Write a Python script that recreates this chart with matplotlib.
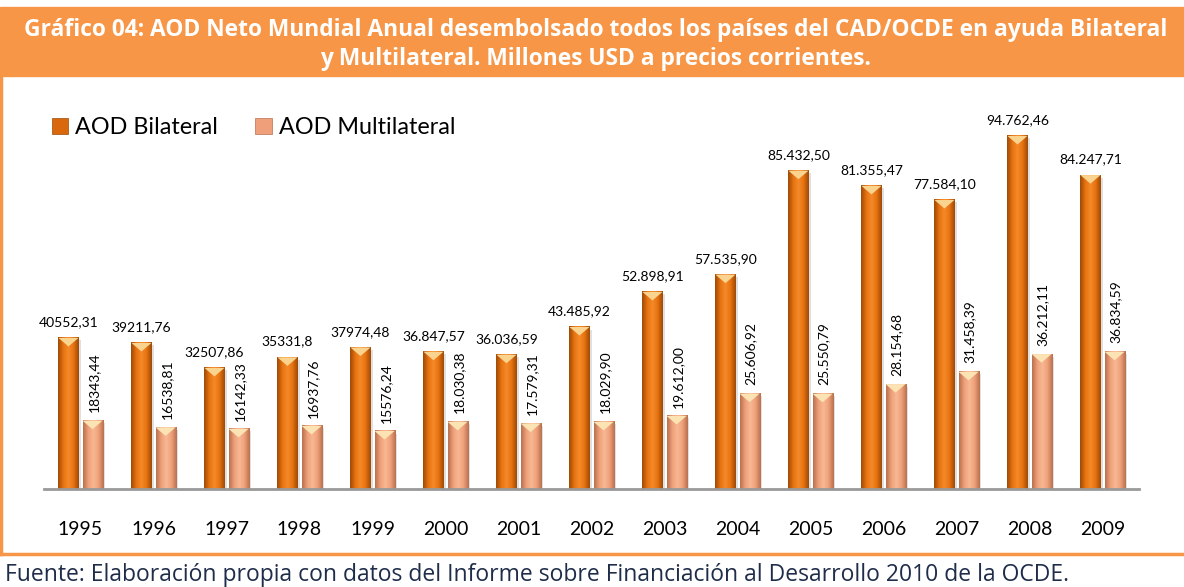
import numpy as np
import matplotlib.pyplot as plt
from matplotlib.colors import LinearSegmentedColormap
from matplotlib.patches import Rectangle, Polygon, Patch
from matplotlib.lines import Line2D

plt.rcParams['font.family'] = ['Lato', 'DejaVu Sans']

# data
years = ['1995', '1996', '1997', '1998', '1999', '2000', '2001', '2002',
         '2003', '2004', '2005', '2006', '2007', '2008', '2009']
bilateral = [40552.31, 39211.76, 32507.86, 35331.8, 37974.48, 36847.57, 36036.59,
             43485.92, 52898.91, 57535.90, 85432.50, 81355.47, 77584.10, 94762.46, 84247.71]
multilateral = [18343.44, 16538.81, 16142.33, 16937.76, 15576.24, 18030.38, 17579.31,
                18029.90, 19612.00, 25606.92, 25550.79, 28154.68, 31458.39, 36212.11, 36834.59]
bil_labels = ['40552,31', '39211,76', '32507,86', '35331,8', '37974,48', '36.847,57',
              '36.036,59', '43.485,92', '52.898,91', '57.535,90', '85.432,50',
              '81.355,47', '77.584,10', '94.762,46', '84.247,71']
mul_labels = ['18343,44', '16538,81', '16142,33', '16937,76', '15576,24', '18.030,38',
              '17.579,31', '18.029,90', '19.612,00', '25.606,92', '25.550,79',
              '28.154,68', '31.458,39', '36.212,11', '36.834,59']

orange = '#F79646'
fig = plt.figure(figsize=(11.84, 5.87), dpi=100)

# header band + frame lines
fig.patches.append(Rectangle((0, 1 - 76/587), 1, 69/587, transform=fig.transFigure,
                             color=orange, zorder=0))
fig.lines.append(Line2D([0.001, 0.001], [1 - 76/587, 1 - 554/587], transform=fig.transFigure,
                        color=orange, lw=2.5))
fig.lines.append(Line2D([0, 1], [1 - 554/587, 1 - 554/587], transform=fig.transFigure,
                        color=orange, lw=2.5))
fig.text(0.503, 1 - 44.5/587,
         'Gráfico 04: AOD Neto Mundial Anual desembolsado todos los países del CAD/OCDE en ayuda Bilateral\n'
         'y Multilateral. Millones USD a precios corrientes.',
         ha='center', va='center', color='white', fontsize=16.4, fontweight='bold',
         family=['Open Sans', 'DejaVu Sans'], linespacing=1.3)
fig.text(0.004, 1 - 575/587,
         'Fuente: Elaboración propia con datos del Informe sobre Financiación al Desarrollo 2010 de la OCDE.',
         ha='left', va='center', color='#1F2D4A', fontsize=16.5,
         family=['Open Sans', 'DejaVu Sans'])

ax = fig.add_axes([44/1184, 98/587, (1139 - 44)/1184, (489 - 100)/587])
ymax = 104400
x = np.arange(len(years))
w = 0.275
off = 0.165

cm_bil = LinearSegmentedColormap.from_list('bil', ['#9C4A08', '#E8720F', '#F58A2A', '#E8720F', '#9C4A08'])
cm_mul = LinearSegmentedColormap.from_list('mul', ['#B8704E', '#EFA07A', '#F7B894', '#EFA07A', '#B8704E'])
grad = np.linspace(0, 1, 64).reshape(1, -1)
depth = ymax * 0.022


def draw_bars(xs, vals, cmap, top_col):
    for xi, v in zip(xs, vals):
        # shadow
        ax.add_patch(Rectangle((xi - w/2 + 0.03, 0), w, v - depth * 0.3, color='#000000',
                               alpha=0.12, lw=0, zorder=1))
        ax.imshow(grad, extent=[xi - w/2, xi + w/2, 0, v], aspect='auto', cmap=cmap,
                  zorder=2, interpolation='bicubic')
        ax.add_patch(Polygon([[xi - w/2, v], [xi + w/2, v], [xi, v - depth]],
                             closed=True, color=top_col, lw=0, zorder=3))


draw_bars(x - off, bilateral, cm_bil, '#FAD38E')
draw_bars(x + off, multilateral, cm_mul, '#FCE3B4')

for xi, v, s in zip(x - off, bilateral, bil_labels):
    ax.annotate(s, (xi, v), xytext=(0, 7), textcoords='offset points',
                ha='center', va='bottom', fontsize=10)
for xi, v, s in zip(x + off, multilateral, mul_labels):
    ax.annotate(s, (xi, v), xytext=(1, 6), textcoords='offset points',
                ha='center', va='bottom', fontsize=10, rotation=90)

ax.set_xlim(-0.5, 14.5)
ax.set_ylim(0, ymax)
ax.set_xticks(x)
ax.set_xticklabels(years, fontsize=14)
ax.tick_params(axis='x', length=0, pad=23)
ax.set_yticks([])
for sp in ['top', 'left', 'right']:
    ax.spines[sp].set_visible(False)
ax.spines['bottom'].set_color('#999999')
ax.spines['bottom'].set_linewidth(2)

handles = [Patch(facecolor='#D9670C', edgecolor='#9C4A08', lw=0.5),
           Patch(facecolor='#EFA07A', edgecolor='#B8704E', lw=0.5)]
ax.legend(handles, ['AOD Bilateral', 'AOD Multilateral'], loc='upper left',
          bbox_to_anchor=(-0.012, 1.01), ncol=2, frameon=False, fontsize=16.8,
          handlelength=0.7, handleheight=0.7, handletextpad=0.3, columnspacing=1.6)

fig.savefig('out.png', dpi=100)
